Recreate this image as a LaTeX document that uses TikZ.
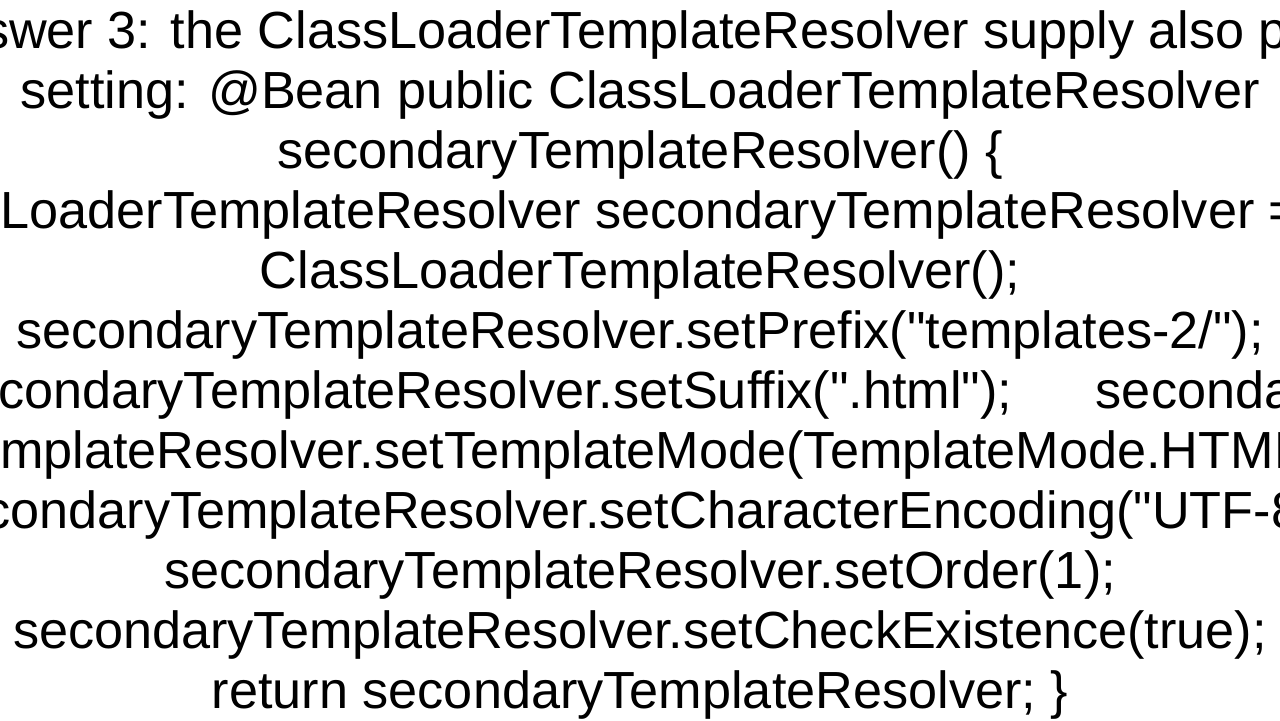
\documentclass[tikz,border=0pt]{standalone}
\usepackage{fontspec}
\setmainfont{Liberation Sans}[Ligatures=TeXOff]
\begin{document}
\begin{tikzpicture}[x=0.01cm,y=-0.01cm,
  codeline/.style={anchor=base,inner sep=0pt,font=\fontsize{14.85pt}{17pt}\selectfont}]
  \useasboundingbox (0,0) rectangle (1280,720);
  \clip (0,0) rectangle (1280,720);
  % Lines of text
  \node[codeline] (l1) at (640,48) {Answer 3: the ClassLoaderTemplateResolver supply also prov};
  \node[codeline] (l2) at (640,108) {setting: @Bean public ClassLoaderTemplateResolver};
  \node[codeline] (l3) at (640,168) {secondaryTemplateResolver() \{};
  \node[codeline] (l4) at (640,228) {ClassLoaderTemplateResolver secondaryTemplateResolver = new};
  \node[codeline] (l5) at (640,288) {ClassLoaderTemplateResolver();};
  \node[codeline] (l6) at (640,348) {secondaryTemplateResolver.setPrefix("templates-2/");};
  \node[codeline] (l7) at (640,408) {secondaryTemplateResolver.setSuffix(".html");\hspace{1.6em}secondary};
  \node[codeline] (l8) at (640,468) {TemplateResolver.setTemplateMode(TemplateMode.HTML);};
  \node[codeline] (l9) at (640,528) {secondaryTemplateResolver.setCharacterEncoding("UTF-8");};
  \node[codeline] (l10) at (640,588) {secondaryTemplateResolver.setOrder(1);};
  \node[codeline] (l11) at (640,648) {secondaryTemplateResolver.setCheckExistence(true);};
  \node[codeline] (l12) at (640,708) {return secondaryTemplateResolver; \}};
\end{tikzpicture}
\end{document}
